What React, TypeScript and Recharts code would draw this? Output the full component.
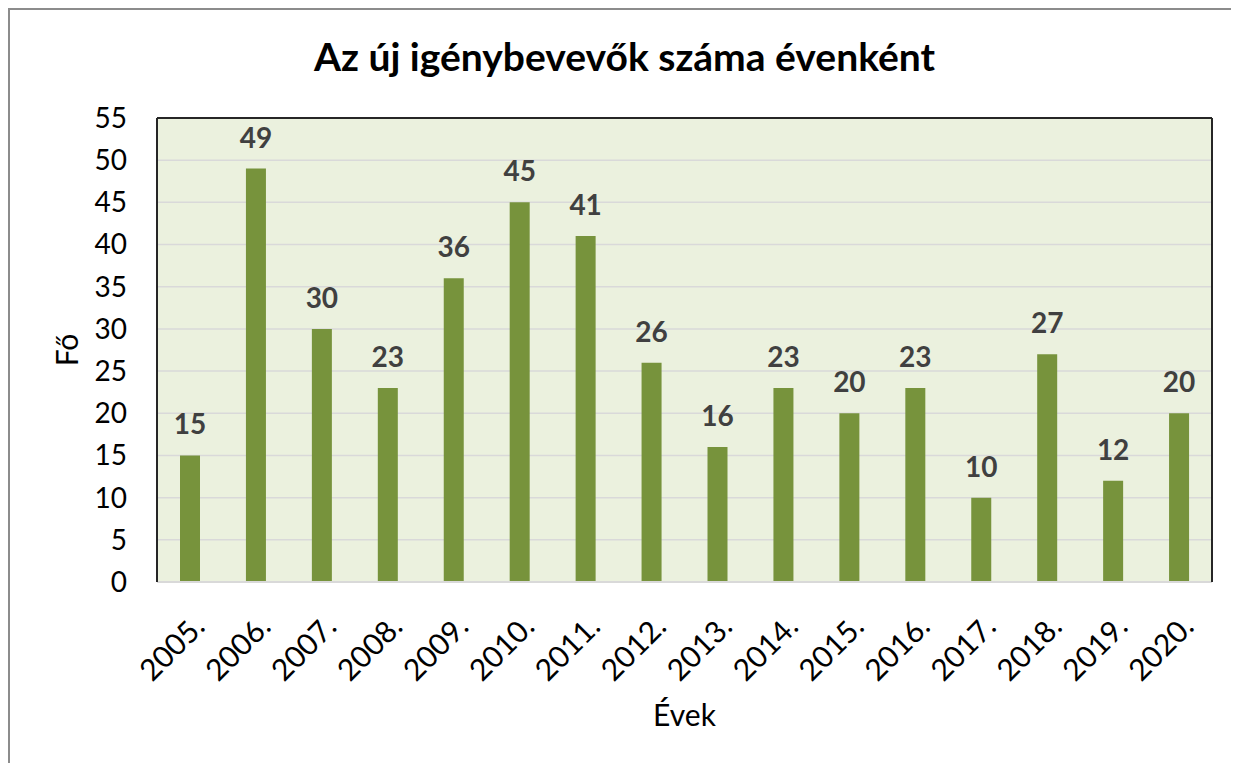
import React from "react";
import {
  BarChart,
  Bar,
  XAxis,
  YAxis,
  CartesianGrid,
  LabelList,
  ReferenceLine,
  Label,
} from "recharts";

const years = [
  "2005.", "2006.", "2007.", "2008.", "2009.", "2010.", "2011.", "2012.",
  "2013.", "2014.", "2015.", "2016.", "2017.", "2018.", "2019.", "2020.",
];
const newClients = [15, 49, 30, 23, 36, 45, 41, 26, 16, 23, 20, 23, 10, 27, 12, 20];
const yTicks = [0, 5, 10, 15, 20, 25, 30, 35, 40, 45, 50, 55];

const titleText = "Az új igénybevevők száma évenként";
const xTitle = "Évek";
const yTitle = "Fő";

const data = years.map((y, i) => ({ year: y, value: newClients[i] }));

const FONT = "Lato, 'Noto Sans', sans-serif";

const XTick = (props: any) => {
  const { x, y, payload } = props;
  return (
    <g transform={`translate(${x + 8},${y + 36})`}>
      <text
        transform="rotate(-45)"
        textAnchor="end"
        dominantBaseline="central"
        fontSize={30}
        fontFamily={FONT}
        fill="#000"
      >
        {payload.value}
      </text>
    </g>
  );
};

const YTitle = (props: any) => {
  const { viewBox } = props;
  const cy = viewBox.y + viewBox.height / 2;
  const cx = 56;
  return (
    <text
      x={cx}
      y={cy}
      transform={`rotate(-90, ${cx}, ${cy})`}
      textAnchor="middle"
      dominantBaseline="central"
      fontSize={30}
      fontFamily={FONT}
      fill="#000"
    >
      {yTitle}
    </text>
  );
};

export default function App() {
  return (
    <div
      style={{
        position: "relative",
        width: 1229,
        height: 753,
        borderLeft: "2px solid #8c8c8c",
        borderTop: "2px solid #8c8c8c",
        background: "#fff",
        fontFamily: FONT,
      }}
    >
      <div
        style={{
          position: "absolute",
          left: 0,
          width: 1229,
          top: 27,
          textAlign: "center",
          fontSize: 39,
          lineHeight: "39px",
          fontWeight: 700,
          color: "#000",
        }}
      >
        {titleText}
      </div>
      <BarChart
        width={1229}
        height={753}
        data={data}
        margin={{ top: 108, right: 0, left: 0, bottom: 0 }}
        barSize={20}
      >
        <CartesianGrid
          yAxisId="l"
          vertical={false}
          stroke="#d9d9d9"
          strokeWidth={1.5}
          fill="#ebf1de"
        />
        <XAxis
          dataKey="year"
          height={181}
          tickLine={false}
          tickSize={0}
          axisLine={{ stroke: "#d9d9d9", strokeWidth: 2 }}
          tick={<XTick />}
          interval={0}
        >
          <Label
            value={xTitle}
            position="insideBottom"
            offset={37}
            fontSize={30}
            fontFamily={FONT}
            fill="#000"
          />
        </XAxis>
        <YAxis
          yAxisId="l"
          width={147}
          domain={[0, 55]}
          ticks={yTicks}
          interval={0}
          tickLine={false}
          tickSize={0}
          tickMargin={30}
          axisLine={{ stroke: "#262626", strokeWidth: 2 }}
          tick={{ fontSize: 28, fontFamily: FONT, fill: "#000" }}
        >
          <Label content={<YTitle />} />
        </YAxis>
        <YAxis
          yAxisId="r"
          orientation="right"
          width={27}
          domain={[0, 55]}
          tick={false}
          tickLine={false}
          axisLine={{ stroke: "#262626", strokeWidth: 2 }}
        />
        <ReferenceLine yAxisId="l" y={55} stroke="#262626" strokeWidth={2} />
        <Bar yAxisId="l" dataKey="value" fill="#77933c" isAnimationActive={false}>
          <LabelList
            dataKey="value"
            position="top"
            offset={21}
            fontSize={28}
            fontWeight={700}
            fontFamily={FONT}
            fill="#404040"
          />
        </Bar>
      </BarChart>
    </div>
  );
}
